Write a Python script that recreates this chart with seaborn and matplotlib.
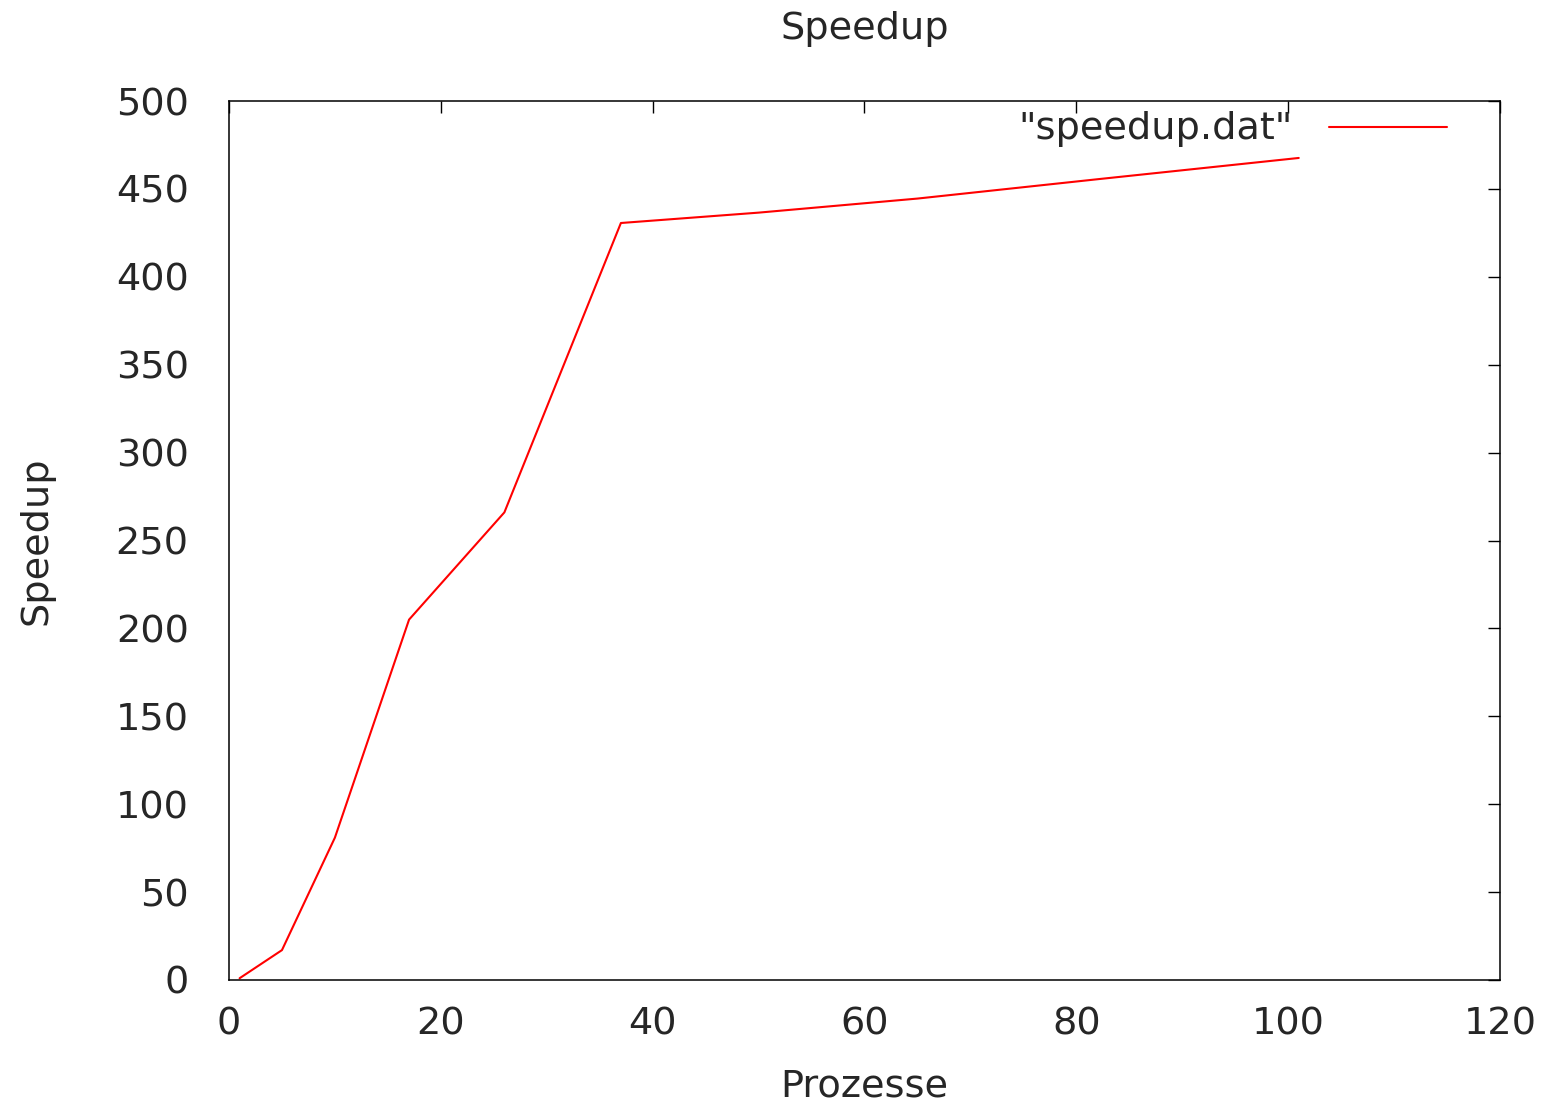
import matplotlib
matplotlib.use("Agg")
import matplotlib.pyplot as plt
import seaborn as sns
import pandas as pd

# Data
prozesse = [1, 2, 5, 10, 17, 26, 37, 50, 65, 82, 101]
speedup = [1, 5, 17, 81, 205, 266, 430.6, 436.5, 444.5, 455.5, 467.6]
x_ticks = [0, 20, 40, 60, 80, 100, 120]
y_ticks = [0, 50, 100, 150, 200, 250, 300, 350, 400, 450, 500]
series_label = '"speedup.dat"'

df = pd.DataFrame({"Prozesse": prozesse, "Speedup": speedup})

sns.set_style("white")
plt.rcParams["font.family"] = ["DejaVu Sans"]
FS = 27.5
TXT = "#262626"

fig = plt.figure(figsize=(15.43, 11.08), dpi=100)
ax = fig.add_axes([229 / 1543, 1 - 980 / 1108, (1500 - 229) / 1543, (980 - 101) / 1108])

sns.lineplot(data=df, x="Prozesse", y="Speedup", ax=ax, color="#ff0000",
             linewidth=1.5, label=series_label)

ax.set_xlim(0, 120)
ax.set_ylim(0, 500)
ax.set_xticks(x_ticks)
ax.set_yticks(y_ticks)
ax.tick_params(axis="both", which="major", direction="in", length=8.5, width=1.0,
               color="black", labelsize=FS, labelcolor=TXT,
               top=True, right=True)
ax.tick_params(axis="y", pad=29)
ax.tick_params(axis="x", pad=19)
for s in ax.spines.values():
    s.set_visible(True)
    s.set_color("black")
    s.set_linewidth(1.1)

ax.set_xlabel("Prozesse", fontsize=FS, color=TXT, labelpad=19)
ax.set_ylabel("Speedup", fontsize=FS, color=TXT, labelpad=44)
ax.set_title("Speedup", fontsize=FS, color=TXT, pad=45)

leg = ax.legend(loc="upper right", frameon=False, markerfirst=False,
                fontsize=FS, handlelength=3.1, handletextpad=0.95,
                handleheight=0.3,
                borderaxespad=0.0, borderpad=0.25,
                bbox_to_anchor=(1 - 43 / 1271, 1.0))
for t in leg.get_texts():
    t.set_color(TXT)

fig.savefig("out.png", dpi=100)
